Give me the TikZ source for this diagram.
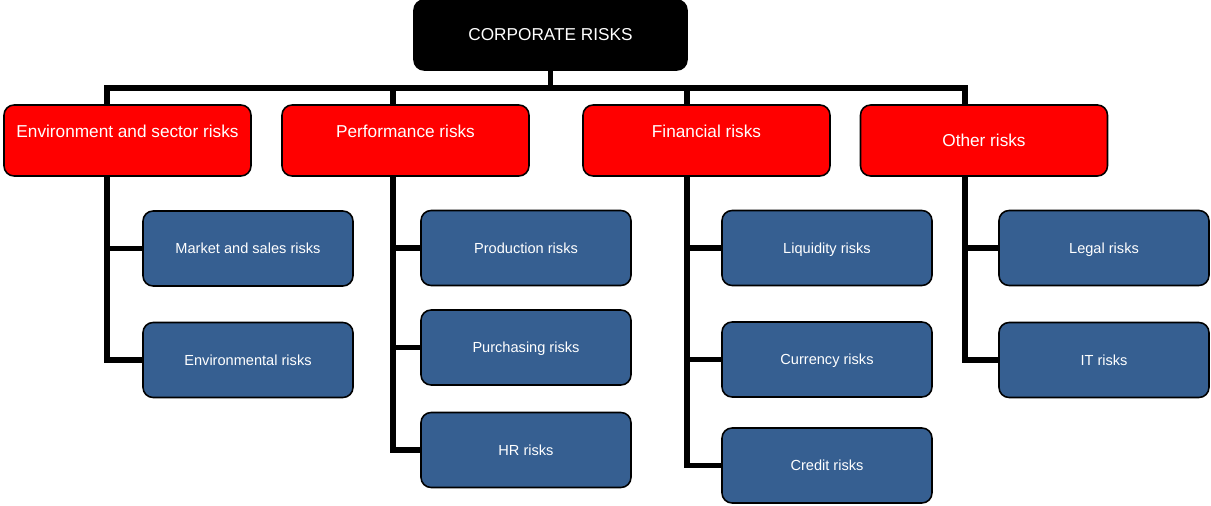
\documentclass[tikz,border=0pt]{standalone}
\usepackage{fontspec}
\setmainfont{Liberation Sans}
\definecolor{riskBlack}{RGB}{0, 0, 0}
\definecolor{riskRed}{RGB}{255, 0, 0}
\definecolor{riskBlue}{RGB}{54, 95, 145}
\usetikzlibrary{positioning, calc}

\begin{document}
\begin{tikzpicture}[x=0.02cm, y=-0.02cm,
  box/.style={rectangle, rounded corners=0.2cm, draw=black, line width=0.9pt, text=white, align=center, inner sep=0pt},
  headbox/.style={box, fill=riskBlack, minimum width=5.46cm, minimum height=1.4cm, font=\fontsize{9.8}{11.8}\selectfont},
  groupbox/.style={box, fill=riskRed, minimum width=4.94cm, minimum height=1.42cm, font=\fontsize{9.8}{11.8}\selectfont, text height=7pt, text depth=10.8pt},
  itembox/.style={box, fill=riskBlue, minimum width=4.2cm, minimum height=1.5cm, font=\fontsize{8.3}{10}\selectfont, text height=6pt, text depth=0pt},
  wire/.style={draw=black, line width=3pt}]
  \useasboundingbox (0,0) rectangle (1211,506);

  % head and the four groups
  \node[headbox] (corp) at (550.5,35) {CORPORATE RISKS};
  \node[groupbox] (env) at (127.5,140.5) {Environment and sector risks};
  \node[groupbox] (perf) at (405.5,140.5) {Performance risks};
  \node[groupbox] (fin) at (706.5,140.5) {Financial risks};
  \node[groupbox, text depth=0pt] (oth) at (984,140.5) {Other risks};

  % single risks under each group
  \foreach \n/\x/\y/\txt in {
    mkt/248/248.5/Market and sales risks,
    envr/248/360/Environmental risks,
    prod/526/248/Production risks,
    purch/526/347.5/Purchasing risks,
    hr/526/450/HR risks,
    liq/827/248/Liquidity risks,
    cur/827/359.5/Currency risks,
    cred/827/465.5/Credit risks,
    legal/1104/248/Legal risks,
    it/1104/360/IT risks%
  } {
    \node[itembox] (\n) at (\x, \y) {\txt};
  }

  % junctions on the bus
  \coordinate (env-j) at (107,88);
  \coordinate (perf-j) at (393,88);
  \coordinate (fin-j) at (687,88);
  \coordinate (oth-j) at (965,88);

  \foreach \g in {env, perf, fin, oth} {
    \draw[wire] (corp.south) |- (\g-j) -- (\g-j |- \g.north);
  }
  \foreach \g/\r in {env/mkt, env/envr, perf/prod, perf/purch, perf/hr,
                     fin/liq, fin/cur, fin/cred, oth/legal, oth/it} {
    \draw[wire] (\g-j |- \g.south) |- (\r.west);
  }
\end{tikzpicture}
\end{document}
